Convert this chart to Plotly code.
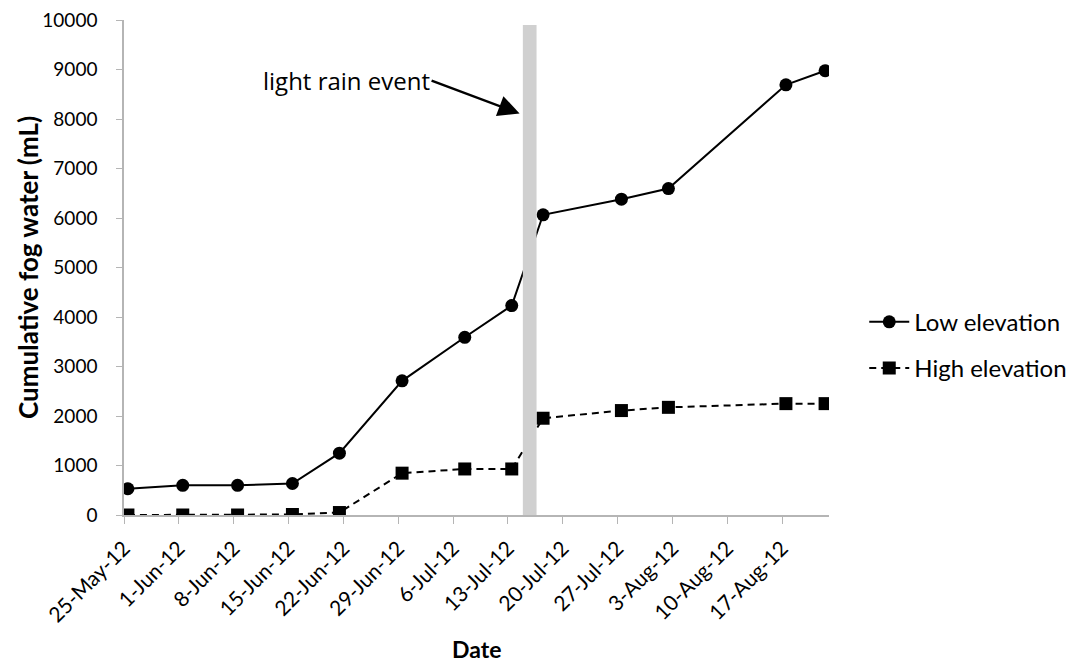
import pandas as pd
import plotly.graph_objects as go

# ---- data ----
dates = ["2012-05-25", "2012-06-01", "2012-06-08", "2012-06-15", "2012-06-21",
         "2012-06-29", "2012-07-07", "2012-07-13", "2012-07-17", "2012-07-27",
         "2012-08-02", "2012-08-17", "2012-08-22"]
low_elevation = [530, 600, 600, 636, 1250, 2710, 3590, 4230, 6065, 6380, 6595, 8690, 8975]
high_elevation = [0, 0, 0, 10, 50, 845, 930, 930, 1955, 2110, 2175, 2250, 2250]

tick_dates = ["2012-05-25", "2012-06-01", "2012-06-08", "2012-06-15", "2012-06-22",
              "2012-06-29", "2012-07-06", "2012-07-13", "2012-07-20", "2012-07-27",
              "2012-08-03", "2012-08-10", "2012-08-17"]
tick_labels = ["25-May-12", "1-Jun-12", "8-Jun-12", "15-Jun-12", "22-Jun-12",
               "29-Jun-12", "6-Jul-12", "13-Jul-12", "20-Jul-12", "27-Jul-12",
               "3-Aug-12", "10-Aug-12", "17-Aug-12"]
y_ticks = list(range(0, 10001, 1000))

rain_start = "2012-07-14 22:00"
rain_end = "2012-07-16 16:00"
rain_top = 9900
arrow_target = ("2012-07-14 12:00", 8110)

# Excel date axis centres each point in its day slot
x_pts = pd.to_datetime(dates) + pd.Timedelta(hours=12)

FONT = "Lato"

fig = go.Figure()
fig.add_trace(go.Scatter(
    x=x_pts, y=low_elevation, name="Low elevation", mode="lines+markers",
    legendgroup="low",
    line=dict(color="black", width=2),
    marker=dict(symbol="circle", size=13, color="black"),
))
fig.add_trace(go.Scatter(
    x=x_pts, y=high_elevation, name="High elevation", mode="lines+markers",
    legendgroup="high",
    line=dict(color="black", width=2, dash="7px,5px"),
    marker=dict(symbol="square", size=13, color="black"),
))

fig.add_shape(type="rect", xref="x", yref="y", x0=rain_start, x1=rain_end,
              y0=0, y1=rain_top, fillcolor="#d0d0d0", line=dict(width=0),
              layer="above")

fig.add_annotation(
    x=arrow_target[0], y=arrow_target[1], xref="x", yref="y",
    text="light rain event", showarrow=True, ax=-88, ay=-33,
    xanchor="right", yanchor="middle",
    arrowhead=2, arrowsize=1.7, arrowwidth=2.5, arrowcolor="black",
    font=dict(family="Open Sans", size=24, color="black"),
)

# axis titles
fig.add_annotation(xref="paper", yref="paper", x=-0.137, y=0.5,
                   text="<b>Cumulative fog water (mL)</b>", textangle=-90,
                   showarrow=False, xanchor="center", yanchor="middle",
                   font=dict(family=FONT, size=26, color="black"))
fig.add_annotation(xref="paper", yref="paper", x=0.500, y=-0.270,
                   text="<b>Date</b>", showarrow=False,
                   xanchor="center", yanchor="middle",
                   font=dict(family=FONT, size=23, color="black"))

axis_grey = "#b5b5b5"
# the page body adds an 8px margin, so the figure is 8px smaller and offset
fig.update_layout(
    width=1069, height=656,
    margin=dict(l=115.5, r=248, t=12, b=148.5, autoexpand=False),
    plot_bgcolor="white", paper_bgcolor="white",
    font=dict(family=FONT, size=20, color="black"),
    showlegend=True,
    legend=dict(x=1.050, y=0.343, xanchor="left", yanchor="middle",
                font=dict(family=FONT, size=24), itemwidth=40,
                traceorder="grouped", tracegroupgap=12),
    xaxis=dict(
        type="date", range=["2012-05-25", "2012-08-23"],
        tickvals=tick_dates, ticktext=tick_labels, tickangle=-45,
        showline=True, linecolor=axis_grey, linewidth=1.5,
        ticks="outside", tickcolor=axis_grey, ticklen=7,
        showgrid=False, zeroline=False, automargin=False,
        tickfont=dict(family=FONT, size=21),
        ticklabelstandoff=4,
    ),
    yaxis=dict(
        range=[0, 10000], tickvals=y_ticks, tickformat="d",
        showline=True, linecolor=axis_grey, linewidth=1.5,
        ticks="outside", tickcolor=axis_grey, ticklen=6,
        showgrid=False, zeroline=False, automargin=False,
        tickfont=dict(family=FONT, size=19),
        ticklabelstandoff=15, ticklabeloverflow="allow",
    ),
)

fig.write_html("out.html")
